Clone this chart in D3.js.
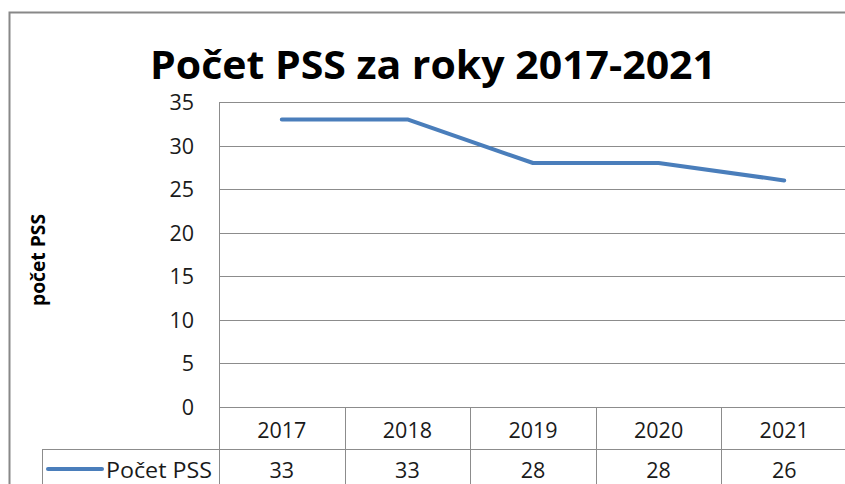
<!DOCTYPE html>
<html><head><meta charset="utf-8">
<script src="https://cdn.jsdelivr.net/npm/d3@7"></script>
<style>body{margin:0;background:#fff}svg{display:block}</style>
</head><body>
<script>
const categories = ["2017","2018","2019","2020","2021"];
const values = [33,33,28,28,26];
const yTicks = [0,5,10,15,20,25,30,35];
const seriesName = "Počet PSS";
const title = "Počet PSS za roky 2017-2021";
const yLabel = "počet PSS";

(function(){
const W=845,H=484;
const svg=d3.select("body").append("svg").attr("width",W).attr("height",H);
svg.append("rect").attr("width",W).attr("height",H).attr("fill","#fff");
const font="'Open Sans', 'DejaVu Sans', sans-serif";
const fs=21.5, txtC="#1a1a1a";
svg.append("rect").attr("x",9.5).attr("y",12.5).attr("width",W).attr("height",H).attr("fill","none").attr("stroke","#888").attr("stroke-width",2);

const pL=219, pR=847, pT=102, pB=407;
const x=d3.scaleBand().domain(categories).range([pL,pR]);
const y=d3.scaleLinear().domain([0,35]).range([pB,pT]);
const gridC="#8c8c8c";

svg.append("g").selectAll("line").data(yTicks).join("line")
 .attr("x1",pL).attr("x2",pR).attr("y1",d=>Math.round(y(d))+0.5).attr("y2",d=>Math.round(y(d))+0.5)
 .attr("stroke",gridC).attr("stroke-width",1);
svg.append("line").attr("x1",pL+0.5).attr("x2",pL+0.5).attr("y1",pT).attr("y2",H).attr("stroke",gridC);
svg.append("g").selectAll("text").data(yTicks).join("text")
 .attr("x",194).attr("y",d=>y(d)+8).attr("text-anchor","end")
 .attr("font-family",font).attr("font-size",fs).attr("fill",txtC).text(d=>d);

const rowH=42;
svg.append("g").selectAll("line").data(d3.range(categories.length+1)).join("line")
 .attr("x1",i=>Math.round(pL+i*x.step())+0.5).attr("x2",i=>Math.round(pL+i*x.step())+0.5)
 .attr("y1",pB).attr("y2",H).attr("stroke",gridC);
svg.append("line").attr("x1",42).attr("x2",pR).attr("y1",pB+rowH+0.5).attr("y2",pB+rowH+0.5).attr("stroke",gridC);
svg.append("line").attr("x1",42.5).attr("x2",42.5).attr("y1",pB+rowH).attr("y2",H).attr("stroke",gridC);
svg.append("g").selectAll("text").data(categories).join("text")
 .attr("x",d=>x(d)+x.bandwidth()/2).attr("y",pB+31).attr("text-anchor","middle")
 .attr("font-family",font).attr("font-size",fs).attr("fill",txtC).text(d=>d);
svg.append("g").selectAll("text").data(values).join("text")
 .attr("x",(d,i)=>x(categories[i])+x.bandwidth()/2).attr("y",pB+rowH+29).attr("text-anchor","middle")
 .attr("font-family",font).attr("font-size",fs).attr("fill",txtC).text(d=>d);
svg.append("line").attr("x1",48).attr("x2",102).attr("y1",pB+rowH+20).attr("y2",pB+rowH+20)
 .attr("stroke","#4a7ebb").attr("stroke-width",4).attr("stroke-linecap","round");
svg.append("text").attr("x",106).attr("y",pB+rowH+29).attr("font-family",font).attr("font-size",fs).attr("fill",txtC)
 .attr("textLength",106).attr("lengthAdjust","spacingAndGlyphs").text(seriesName);

svg.append("path").datum(values)
 .attr("d",d3.line().x((d,i)=>x(categories[i])+x.bandwidth()/2).y(d=>y(d)))
 .attr("fill","none").attr("stroke","#4a7ebb").attr("stroke-width",4).attr("stroke-linecap","round").attr("stroke-linejoin","round");

svg.append("text").attr("x",433).attr("y",79).attr("text-anchor","middle")
 .attr("font-family",font).attr("font-weight","bold").attr("font-size",40).attr("fill","#000")
 .attr("textLength",566).attr("lengthAdjust","spacingAndGlyphs").text(title);
svg.append("text").attr("transform","translate(45,260) rotate(-90)").attr("text-anchor","middle")
 .attr("font-family",font).attr("font-weight","bold").attr("font-size",19).attr("fill","#000")
 .attr("textLength",92).attr("lengthAdjust","spacingAndGlyphs").text(yLabel);
})();
</script>
</body></html>
